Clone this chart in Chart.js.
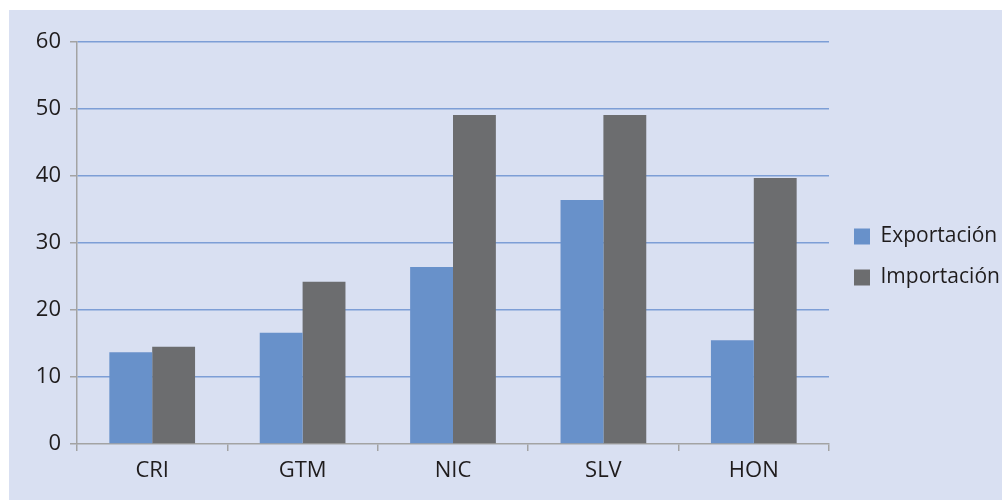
<!DOCTYPE html>
<html>
<head>
<meta charset="utf-8">
<script src="https://cdn.jsdelivr.net/npm/chart.js@4"></script>
<style>
  html, body { margin: 0; padding: 0; background: #ffffff; }
  #wrap {
    position: absolute;
    left: 9px;
    top: 10px;
    width: 993px;
    height: 490px;
    background: #d9e0f2;
  }
</style>
</head>
<body>
<div id="wrap"><canvas id="tradeChart" width="993" height="490"></canvas></div>
<script>
// Country codes along the x axis
const countries = ['CRI', 'GTM', 'NIC', 'SLV', 'HON'];

// Values per country
const exportacion = [13.7, 16.6, 26.4, 36.4, 15.5];
const importacion = [14.5, 24.2, 49.1, 49.1, 39.7];

// Y axis ticks
const yMin = 0;
const yMax = 60;
const yStep = 10;

const textColor = '#1f1c1d';
const axisGrey = '#a3a3a3';
const gridBlue = '#7d9ed6';
const fontFamily = 'Open Sans';

const canvas = document.getElementById('tradeChart');
const ctx = canvas.getContext('2d');

// Nudge the legend a little up and right of where Chart.js centres it
const legendShift = {
  id: 'legendShift',
  afterLayout(chart) {
    const lg = chart.legend;
    if (!lg) return;
    lg.left += 5;
    lg.right += 5;
    lg.top -= 14;
    lg.bottom -= 14;
  }
};

const myChart = new Chart(ctx, {
  type: 'bar',
  data: {
    labels: countries,
    datasets: [
      {
        label: 'Exportación',
        data: exportacion,
        backgroundColor: '#6891ca',
        borderWidth: 0
      },
      {
        label: 'Importación',
        data: importacion,
        backgroundColor: '#6c6d6f',
        borderWidth: 0
      }
    ]
  },
  options: {
    responsive: false,
    animation: false,
    layout: {
      padding: { top: 32, right: 0, bottom: 0, left: 0 }
    },
    datasets: {
      bar: {
        barPercentage: 1,
        categoryPercentage: 0.57
      }
    },
    plugins: {
      tooltip: { enabled: false },
      legend: {
        position: 'right',
        maxWidth: 173,
        labels: {
          boxWidth: 16,
          boxHeight: 16,
          padding: 20,
          color: textColor,
          font: { family: fontFamily, size: 21 }
        }
      }
    },
    scales: {
      x: {
        grid: {
          display: true,
          drawOnChartArea: false,
          drawTicks: true,
          tickLength: 7,
          color: axisGrey,
          lineWidth: 1.5
        },
        border: { display: true, color: axisGrey, width: 1.5 },
        ticks: {
          color: textColor,
          padding: 7,
          font: { family: fontFamily, size: 22 }
        },
        afterFit: function(scale) {
          scale.height = 56;
        }
      },
      y: {
        min: yMin,
        max: yMax,
        grid: {
          drawTicks: true,
          tickLength: 7,
          tickColor: axisGrey,
          lineWidth: 1.5,
          color: function(context) {
            // the zero line is covered by the grey x axis
            return context.tick && context.tick.value === 0 ? 'rgba(0,0,0,0)' : gridBlue;
          }
        },
        border: { display: true, color: axisGrey, width: 1.5 },
        ticks: {
          stepSize: yStep,
          color: textColor,
          padding: 9,
          font: { family: fontFamily, size: 22 }
        },
        afterFit: function(scale) {
          scale.width = 68;
        }
      }
    }
  },
  plugins: [legendShift]
});
</script>
</body>
</html>
